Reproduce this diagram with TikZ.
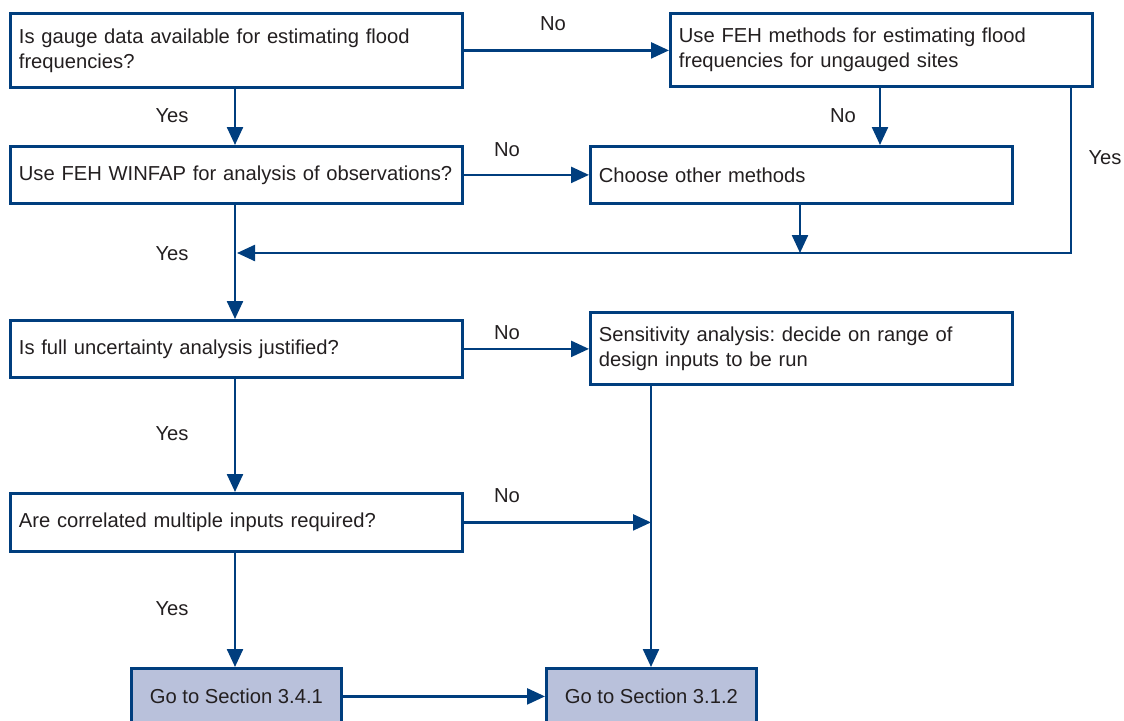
\documentclass[tikz,border=0pt]{standalone}
\usepackage{fontspec}
\setmainfont{Liberation Sans}
\usetikzlibrary{arrows.meta}
\definecolor{flowblue}{RGB}{0,62,126}
\definecolor{textgrey}{RGB}{35,31,32}
\definecolor{goto}{RGB}{185,193,219}
\hyphenpenalty=10000
\exhyphenpenalty=10000
\frenchspacing
\begin{document}
\begin{tikzpicture}[x=1pt,y=-1pt,
  every node/.style={font=\fontsize{20.2}{25}\selectfont, text=textgrey},
  box/.style={draw=flowblue, line width=2.8pt, rectangle, anchor=north west,
    inner xsep=8.5pt, inner ysep=0pt, align=left},
  widebox/.style={box, minimum width=452pt, text width=435pt},
  rightbox/.style={box, minimum width=422pt, text width=405pt},
  gotobox/.style={box, fill=goto, align=center, minimum width=210pt, minimum height=56pt},
  flow/.style={draw=flowblue, line width=2.4pt,
    -{Triangle[length=18pt,width=16pt]}},
  plain/.style={draw=flowblue, line width=2.4pt},
  lbl/.style={inner sep=0pt}]
\useasboundingbox (0,0) rectangle (1124,720);
\clip (0,0) rectangle (1124,720);

% decision and process boxes
\node[widebox, minimum height=74pt] (q1) at (9,12)
  {Is gauge data available for estimating flood\\frequencies?};
\node[rightbox, minimum height=73pt] (ung) at (669,12)
  {Use FEH methods for estimating flood\\frequencies for ungauged sites};
\node[widebox, minimum height=57pt] (q2) at (9,145)
  {Use FEH WINFAP for analysis of observations?};
\node[rightbox, minimum height=57pt] (other) at (589,145)
  {Choose other methods};
\node[widebox, minimum height=57pt] (q3) at (9,319)
  {Is full uncertainty analysis justified?};
\node[rightbox, minimum height=72pt] (sens) at (589,311)
  {Sensitivity analysis: decide on range of\\design inputs to be run};
\node[widebox, minimum height=58pt] (q4) at (9,492)
  {Are correlated multiple inputs required?};
\node[gotobox] (s341) at (130,667) {Go to Section 3.4.1};
\node[gotobox] (s312) at (545,667) {Go to Section 3.1.2};

% junction points
\coordinate (merge) at (235,253);
\coordinate (mergeOther) at (800,253);
\coordinate (mergeYes) at (1071,253);
\coordinate (sensJoin) at (q4.east -| 651,0);

% connectors
\draw[flow] (q1.south -| merge) -- (q2.north -| merge);
\draw[flow] (q1.east) -- (q1.east -| ung.west);
\draw[flow] (ung.south -| 880,0) -- (other.north -| 880,0);
\draw[flow] (q2.east) -- (q2.east -| other.west);
\draw[flow] (other.south -| mergeOther) -- (mergeOther);
\draw[plain] (ung.south -| mergeYes) -- (mergeYes) -- (mergeOther);
\draw[flow] (mergeOther) -- ([xshift=2pt]merge);
\draw[flow] (q2.south -| merge) -- (q3.north -| merge);
\draw[flow] (q3.east) -- (q3.east -| sens.west);
\draw[flow] (sens.south -| sensJoin) -- (s312.north -| sensJoin);
\draw[flow] (q3.south -| merge) -- (q4.north -| merge);
\draw[flow] (q4.east) -- (sensJoin);
\draw[flow] (q4.south -| merge) -- (s341.north -| merge);
\draw[flow] (s341.east) -- (s312.west);

% branch labels
\node[lbl] (l1) at (553,24) {No};
\node[lbl] (l2) at (172,116) {Yes};
\node[lbl] (l3) at (843,116) {No};
\node[lbl] (l4) at (507,150) {No};
\node[lbl] (l5) at (1105,158) {Yes};
\node[lbl] (l6) at (172,254) {Yes};
\node[lbl] (l7) at (507,333) {No};
\node[lbl] (l8) at (172,434) {Yes};
\node[lbl] (l9) at (507,496) {No};
\node[lbl] (l10) at (172,609) {Yes};
\end{tikzpicture}
\end{document}
